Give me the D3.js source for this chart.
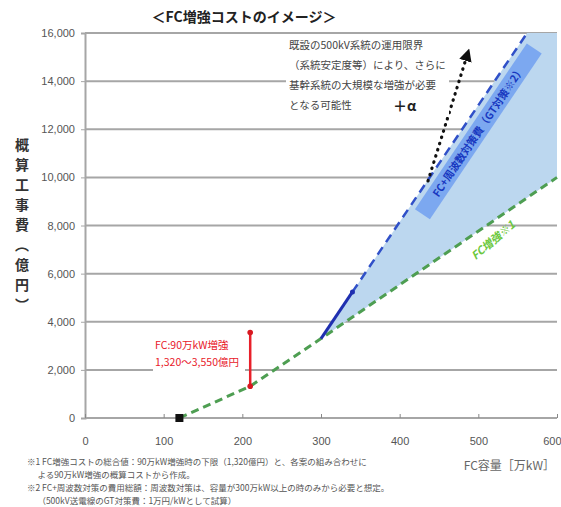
<!DOCTYPE html>
<html lang="ja">
<head>
<meta charset="utf-8">
<script src="https://cdn.jsdelivr.net/npm/d3@7/dist/d3.min.js"></script>
<style>
  html, body { margin: 0; padding: 0; background: #fff; }
  svg { display: block; font-family: "Noto Sans CJK JP", "Liberation Sans", sans-serif; }
</style>
</head>
<body>
<svg id="chart" width="561" height="507"></svg>
<script>
// Axis ticks
const xTicks = [0, 100, 200, 300, 400, 500, 600];
const yTicks = [0, 2000, 4000, 6000, 8000, 10000, 12000, 14000, 16000];

// FC増強 cost line (FC容量 [万kW], 概算工事費 [億円])
const fcLine = [[120, 0], [210, 1320], [300, 3300], [600, 10000]];
// FC + 周波数対策 line: solid part and dashed extension
const fcFreqSolid = [[300, 3300], [340, 5240]];
const fcFreqDashed = [[340, 5240], [562, 16000]];
// Shaded range between the two lines
const bandUpper = [[300, 3300], [340, 5240], [562, 16000], [600, 16000]];
const bandLower = [[300, 3300], [600, 10000]];
// 90万kW増強 cost range
const rangeX = 210;
const rangeLow = 1320;
const rangeHigh = 3550;
// Existing system point
const startPoint = [120, 0];
// "+α" arrow
const alphaArrow = [[436, 9850], [486, 15100]];

const titleText = "＜FC増強コストのイメージ＞";
const yLabel = "概算工事費（億円）";
const xLabel = "FC容量［万kW］";
const noteLines = [
  "既設の500kV系統の運用限界",
  "（系統安定度等）により、さらに",
  "基幹系統の大規模な増強が必要",
  "となる可能性"
];
const rangeLines = ["FC:90万kW増強", "1,320～3,550億円"];
const footnotes = [
  "※1 FC増強コストの総合値：90万kW増強時の下限（1,320億円）と、各案の組み合わせに",
  "　 よる90万kW増強の概算コストから作成。",
  "※2 FC+周波数対策の費用総額：周波数対策は、容量が300万kW以上の時のみから必要と想定。",
  "　 （500kV送電線のGT対策費：1万円/kWとして試算）"
];

const svg = d3.select("#chart");
const x = d3.scaleLinear().domain([0, 600]).range([85, 557]);
const y = d3.scaleLinear().domain([0, 16000]).range([418, 33]);
const line = d3.line().x(d => x(d[0])).y(d => y(d[1]));

// Title
svg.append("text").attr("x", 244).attr("y", 22).attr("text-anchor", "middle")
  .attr("font-size", 14).attr("font-weight", "bold").attr("fill", "#222").text(titleText);

// Grid lines
svg.append("g").selectAll("line").data(yTicks).join("line")
  .attr("x1", x(0)).attr("x2", x(600))
  .attr("y1", d => y(d)).attr("y2", d => y(d))
  .attr("stroke", "#a6a6a6").attr("stroke-width", 2);

// Left axis
const yAxis = d3.axisLeft(y).tickValues(yTicks).tickSize(4).tickPadding(6)
  .tickFormat(d3.format(","));
const gy = svg.append("g").attr("transform", `translate(${x(0)},0)`).call(yAxis);
gy.select(".domain").attr("stroke", "#a6a6a6").attr("stroke-width", 2);
gy.selectAll(".tick line").attr("stroke", "#a6a6a6");
gy.selectAll("text").attr("font-size", 11).attr("fill", "#555")
  .attr("font-family", "Liberation Sans, Arial, sans-serif");

// Bottom axis
const xAxis = d3.axisBottom(x).tickValues(xTicks).tickSize(-4).tickPadding(19);
const gx = svg.append("g").attr("transform", `translate(0,${y(0)})`).call(xAxis);
gx.select(".domain").remove();
gx.selectAll(".tick line").attr("stroke", "#888");
gx.selectAll("text").attr("font-size", 11).attr("fill", "#555")
  .attr("font-family", "Liberation Sans, Arial, sans-serif");
// keep the last tick label inside the frame
gx.selectAll(".tick text").filter(d => d === 600).attr("text-anchor", "end").attr("dx", 4);

// Shaded band
const bandPoly = bandUpper.concat(bandLower.slice().reverse());
svg.append("path").attr("d", line(bandPoly) + "Z").attr("fill", "#bcd7ef");

// FC増強 line
svg.append("path").attr("d", line(fcLine)).attr("fill", "none")
  .attr("stroke", "#4e9e52").attr("stroke-width", 3).attr("stroke-dasharray", "8,5");

// FC + 周波数対策 line
svg.append("path").attr("d", line(fcFreqDashed)).attr("fill", "none")
  .attr("stroke", "#3050c8").attr("stroke-width", 2.5).attr("stroke-dasharray", "9,6");
svg.append("path").attr("d", line(fcFreqSolid)).attr("fill", "none")
  .attr("stroke", "#1f2fb0").attr("stroke-width", 3);
svg.append("circle").attr("cx", x(fcFreqSolid[1][0])).attr("cy", y(fcFreqSolid[1][1]))
  .attr("r", 2.5).attr("fill", "#1f2fb0");

// Rotated label box along the upper line
{
  const p0 = [x(fcFreqDashed[0][0]), y(fcFreqDashed[0][1])];
  const p1 = [x(fcFreqDashed[1][0]), y(fcFreqDashed[1][1])];
  const ang = Math.atan2(p1[1] - p0[1], p1[0] - p0[0]) * 180 / Math.PI;
  const cx = x(500), cy = y(3300 + (500 - 300) * (16000 - 3300) / (562 - 300)) + 26;
  const g = svg.append("g").attr("transform", `translate(${cx},${cy}) rotate(${ang})`);
  g.append("rect").attr("x", -100).attr("y", -9).attr("width", 200).attr("height", 18)
    .attr("fill", "#7ca8f0");
  g.append("text").attr("x", 0).attr("y", 4).attr("text-anchor", "middle")
    .attr("font-size", 10.5).attr("font-weight", "bold").attr("fill", "#1838c0")
    .text("FC+周波数対策費（GT対策※2）");
}

// Green label just below the lower line
{
  const p0 = [x(fcLine[2][0]), y(fcLine[2][1])];
  const p1 = [x(fcLine[3][0]), y(fcLine[3][1])];
  const ang = Math.atan2(p1[1] - p0[1], p1[0] - p0[0]) * 180 / Math.PI;
  svg.append("text")
    .attr("transform", `translate(${x(522)},${y(8300) + 25}) rotate(${ang - 6})`)
    .attr("text-anchor", "middle").attr("font-size", 11).attr("font-style", "italic")
    .attr("font-weight", "bold").attr("fill", "#6cc840").text("FC増強※1");
}

// +α arrow
svg.append("defs").append("marker").attr("id", "arrowHead")
  .attr("viewBox", "0 0 10 10").attr("refX", 5).attr("refY", 5)
  .attr("markerWidth", 4).attr("markerHeight", 4).attr("orient", "auto")
  .attr("markerUnits", "strokeWidth")
  .append("path").attr("d", "M0,0 L10,5 L0,10 Z").attr("fill", "#111");
svg.append("path").attr("d", line(alphaArrow)).attr("fill", "none")
  .attr("stroke", "#111").attr("stroke-width", 3.2).attr("stroke-linecap", "round")
  .attr("stroke-dasharray", "0.5,6").attr("marker-end", "url(#arrowHead)");

// Note text block
svg.append("rect").attr("x", 286).attr("y", 37).attr("width", 163).attr("height", 80).attr("fill", "#fff");
svg.append("g").selectAll("text").data(noteLines).join("text")
  .attr("x", 289).attr("y", (d, i) => 49 + i * 20)
  .attr("font-size", 10.5).attr("fill", "#444").text(d => d);
svg.append("text").attr("x", 393).attr("y", 111).attr("font-size", 14)
  .attr("font-weight", "bold").attr("fill", "#222").text("＋α");

// Range bar at 90万kW増強
svg.append("rect").attr("x", 153).attr("y", 336).attr("width", 92).attr("height", 36).attr("fill", "#fff");
svg.append("g").selectAll("text").data(rangeLines).join("text")
  .attr("x", 155).attr("y", (d, i) => 349 + i * 17)
  .attr("font-size", 10.5).attr("fill", "#e8202a").text(d => d);
svg.append("line").attr("x1", x(rangeX)).attr("x2", x(rangeX))
  .attr("y1", y(rangeLow)).attr("y2", y(rangeHigh))
  .attr("stroke", "#e8202a").attr("stroke-width", 2.5);
svg.append("g").selectAll("circle").data([rangeLow, rangeHigh]).join("circle")
  .attr("cx", x(rangeX)).attr("cy", d => y(d)).attr("r", 2.8).attr("fill", "#d81820");

// Start point
svg.append("rect").attr("x", x(startPoint[0]) - 4).attr("y", y(startPoint[1]) - 4)
  .attr("width", 8).attr("height", 8).attr("fill", "#111");

// Axis titles
svg.append("text").attr("x", 22).attr("y", 138)
  .attr("style", "writing-mode: vertical-rl; letter-spacing: 6px;")
  .attr("font-size", 14).attr("font-weight", "bold").attr("fill", "#333").text(yLabel);
svg.append("text").attr("x", 555).attr("y", 470).attr("text-anchor", "end")
  .attr("font-size", 12).attr("fill", "#666").text(xLabel);

// Footnotes
svg.append("g").selectAll("text").data(footnotes).join("text")
  .attr("x", 27).attr("y", (d, i) => 465 + i * 13)
  .attr("font-size", 8.5).attr("fill", "#555").text(d => d);
</script>
</body>
</html>
